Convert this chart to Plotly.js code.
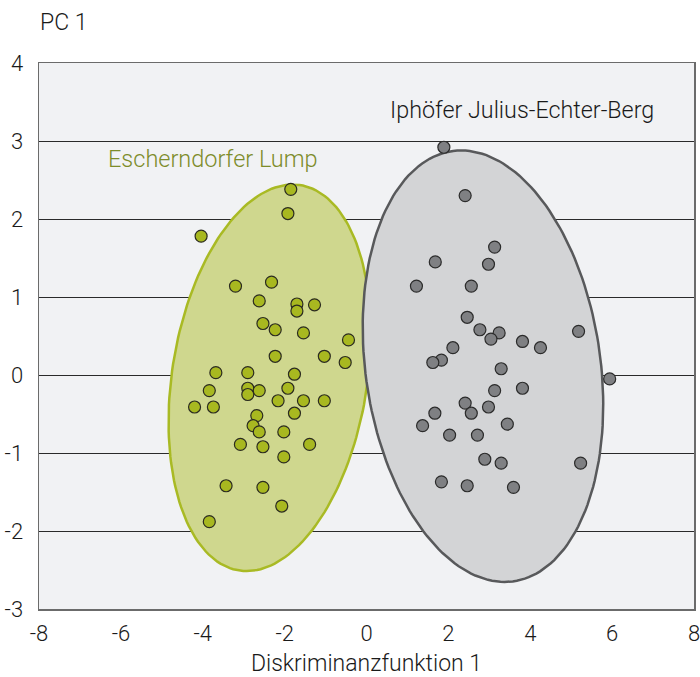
<!DOCTYPE html>
<html>
<head>
<meta charset="utf-8">
<script src="https://cdn.plot.ly/plotly-3.0.1.min.js"></script>
<style>html,body{margin:0;padding:0;background:#fff;}#chart{width:700px;height:677px;}</style>
</head>
<body>
<div id="chart"></div>
<script>
// Escherndorfer Lump samples
const greenX = [-1.85,-1.92,-4.04,-3.20,-2.32,-2.62,-1.70,-1.70,-1.27,-2.53,-2.23,-1.54,-0.44,-2.23,-1.03,-0.52,-3.68,-2.90,-1.76,
  -3.84,-2.90,-2.90,-2.62,-1.92,-4.20,-3.74,-2.16,-1.54,-1.03,-1.76,-2.68,-2.77,-2.62,-2.02,-3.08,-2.53,-1.39,-2.02,-3.43,-2.53,-2.07,-3.84];
const greenY = [2.38,2.07,1.78,1.14,1.19,0.95,0.91,0.82,0.90,0.66,0.58,0.54,0.45,0.24,0.24,0.16,0.03,0.03,0.01,
  -0.20,-0.17,-0.25,-0.20,-0.17,-0.41,-0.41,-0.33,-0.33,-0.33,-0.49,-0.52,-0.65,-0.73,-0.73,-0.89,-0.92,-0.89,-1.05,-1.42,-1.44,-1.68,-1.88];
// Iphöfer Julius-Echter-Berg samples
const greyX = [1.89,2.41,3.13,1.68,2.98,1.22,2.56,2.46,2.77,3.24,3.04,3.81,4.25,5.18,2.11,1.83,1.62,3.29,5.94,
  3.13,3.81,2.41,2.56,2.98,1.67,1.37,2.03,2.71,3.44,2.89,3.29,5.23,1.83,2.46,3.59];
const greyY = [2.92,2.30,1.64,1.45,1.42,1.14,1.14,0.74,0.58,0.54,0.46,0.43,0.35,0.56,0.35,0.19,0.16,0.08,-0.05,
  -0.20,-0.17,-0.36,-0.49,-0.41,-0.49,-0.65,-0.77,-0.77,-0.63,-1.08,-1.13,-1.13,-1.37,-1.42,-1.44];

// Ellipses: centre, horizontal half-chord, conjugate semi-diameter to top point
const greenEllipse = {cx:-2.365, cy:-0.036, ux:2.406, vx:0.562, vy:2.478};
const greyEllipse  = {cx:2.845, cy:0.113, ux:2.89, vx:-0.528, vy:2.766};

const xTicks = [-8,-6,-4,-2,0,2,4,6,8];
const yTicks = [-3,-2,-1,0,1,2,3,4];

function ellipse(e){
  const xs=[], ys=[];
  for(let i=0;i<=180;i++){
    const t = 2*Math.PI*i/180;
    xs.push(e.cx + e.ux*Math.cos(t) + e.vx*Math.sin(t));
    ys.push(e.cy + e.vy*Math.sin(t));
  }
  return {xs, ys};
}
const ge = ellipse(greenEllipse), ye = ellipse(greyEllipse);

const FONT = 'Roboto, "Liberation Sans", sans-serif';
const TXT = '#1a1a1a';
const traces = [
  {x:ge.xs, y:ge.ys, type:'scatter', mode:'lines', fill:'toself', fillcolor:'#cfd78e',
   line:{color:'#a9ba24', width:2.5}, hoverinfo:'skip', showlegend:false},
  {x:ye.xs, y:ye.ys, type:'scatter', mode:'lines', fill:'toself', fillcolor:'#d3d4d6',
   line:{color:'#58595b', width:2.5}, hoverinfo:'skip', showlegend:false},
  {x:greenX, y:greenY, type:'scatter', mode:'markers', showlegend:false,
   marker:{size:12, color:'#a8b820', line:{color:'#2b2b20', width:1.2}}},
  {x:greyX, y:greyY, type:'scatter', mode:'markers', showlegend:false,
   marker:{size:12, color:'#7f8083', line:{color:'#2b2b2b', width:1.2}}}
];

const layout = {
  width:700, height:677,
  margin:{l:39, r:6, t:63, b:68},
  paper_bgcolor:'#ffffff', plot_bgcolor:'#f1f2f4',
  font:{family:FONT, size:22, color:TXT, weight:300},
  showlegend:false,
  xaxis:{range:[-8,8], tickvals:xTicks, ticktext:xTicks.map(String), showgrid:false, zeroline:false,
    showline:true, mirror:true, linecolor:'#6b6b6b', linewidth:1.5, ticks:'', ticklabelstandoff:4,
    ticklabeloverflow:'allow',
    tickfont:{size:22, family:FONT, color:TXT, weight:300},
    title:{text:'Diskriminanzfunktion 1', font:{size:23, family:FONT, color:TXT, weight:300}, standoff:14}},
  yaxis:{range:[-3,4], tickvals:yTicks, ticktext:yTicks.map(String), showgrid:true, gridcolor:'#2a2a2a', gridwidth:1,
    zeroline:false, showline:true, mirror:true, linecolor:'#6b6b6b', linewidth:1.5, ticks:'', ticklabelstandoff:10,
    ticklabeloverflow:'allow',
    tickfont:{size:22, family:FONT, color:TXT, weight:300}},
  annotations:[
    {text:'PC 1', xref:'paper', yref:'paper', x:0, y:1, xshift:-1, yshift:41, xanchor:'left', yanchor:'middle',
     showarrow:false, font:{size:23, family:FONT, color:TXT, weight:300}},
    {text:'Escherndorfer Lump', xref:'x', yref:'y', x:-3.74, y:2.77, showarrow:false,
     font:{size:23.5, family:FONT, color:'#7d8c2a', weight:300}},
    {text:'Iphöfer Julius-Echter-Berg', xref:'x', yref:'y', x:3.80, y:3.40, showarrow:false,
     font:{size:23.3, family:FONT, color:TXT, weight:300}}
  ]
};
Plotly.newPlot('chart', traces, layout, {displayModeBar:false, staticPlot:true});
</script>
</body>
</html>
